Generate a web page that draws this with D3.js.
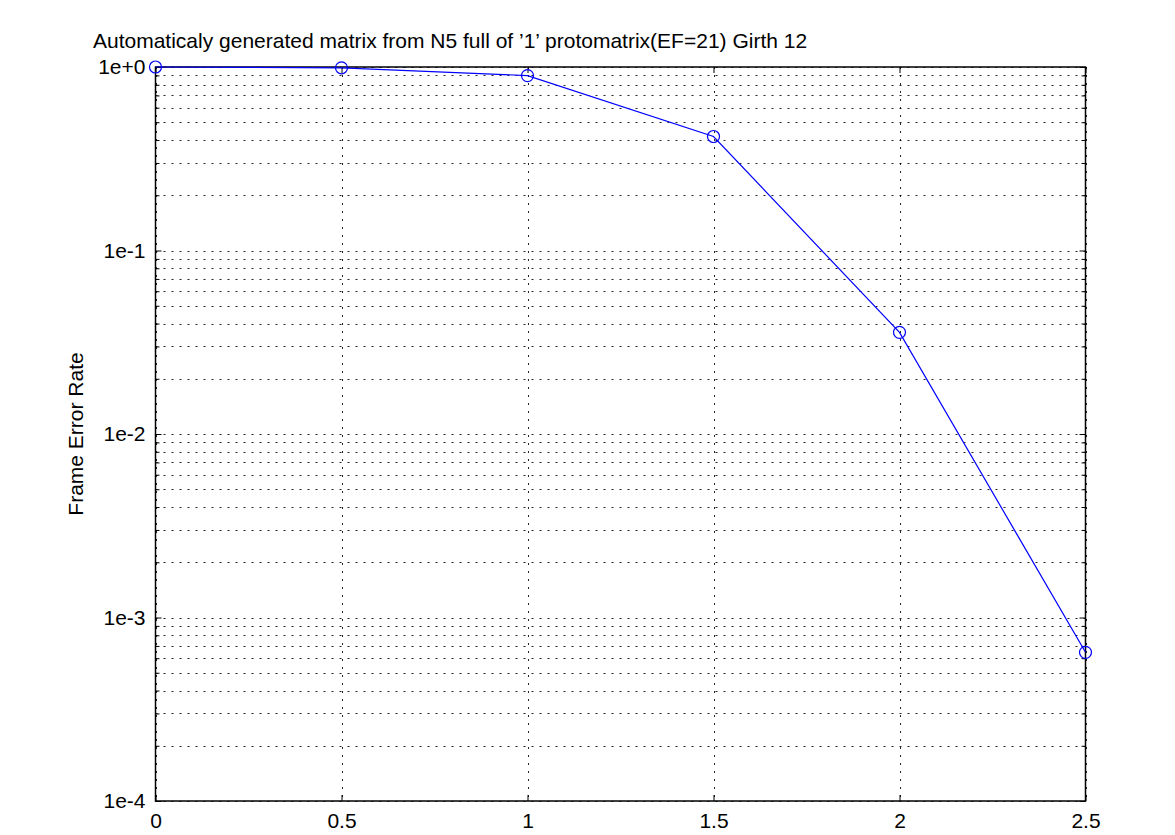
<!DOCTYPE html>
<html><head><meta charset="utf-8">
<script src="https://cdn.jsdelivr.net/npm/d3@7"></script>
<style>body{margin:0;background:#fff}svg{display:block}text{font-family:"Liberation Sans",Arial,sans-serif;fill:#000}</style>
</head><body><svg id="c" width="1175" height="835"></svg>
<script>
const snr = [0, 0.5, 1, 1.5, 2, 2.5];
const fer = [1.0, 0.99, 0.898, 0.418, 0.0358, 0.000646];
const xTicks = [0, 0.5, 1, 1.5, 2, 2.5];
const xTickLabels = ["0", "0.5", "1", "1.5", "2", "2.5"];
const yTicks = [1, 0.1, 0.01, 0.001, 0.0001];
const yTickLabels = ["1e+0", "1e-1", "1e-2", "1e-3", "1e-4"];
const title = "Automaticaly generated matrix from N5 full of \u20191\u2019 protomatrix(EF=21) Girth 12";
const yTitle = "Frame Error Rate";

const FS = "21px";
const L = 155.5, R = 1085.5, T = 67, B = 801;
const svg = d3.select("#c");
const x = d3.scaleLinear().domain([0, 2.5]).range([L, R]);
const y = d3.scaleLog().domain([1e-4, 1]).range([B, T]);

const minors = [];
for (let e = -4; e < 0; e++) for (let m = 2; m <= 9; m++) minors.push(m * Math.pow(10, e));

const g = svg.append("g");
const dash = "2,6";
g.selectAll(".hg").data(yTicks.concat(minors)).join("line")
  .attr("x1", L).attr("x2", R).attr("y1", d => Math.round(y(d)) + 0.5).attr("y2", d => Math.round(y(d)) + 0.5)
  .attr("stroke", "#000").attr("stroke-width", 1).attr("stroke-dasharray", dash).attr("opacity", 0.85);
g.selectAll(".vg").data(xTicks).join("line")
  .attr("x1", d => Math.round(x(d)) + 0.5).attr("x2", d => Math.round(x(d)) + 0.5).attr("y1", T).attr("y2", B)
  .attr("stroke", "#000").attr("stroke-width", 1).attr("stroke-dasharray", dash).attr("opacity", 0.85);

const axB = d3.axisBottom(x).tickValues(xTicks).tickFormat((d, i) => xTickLabels[i]).tickSize(-6).tickPadding(12);
const axT = d3.axisTop(x).tickValues(xTicks).tickFormat("").tickSize(-6);
const axL = d3.axisLeft(y).tickValues(yTicks).tickFormat((d, i) => yTickLabels[i]).tickSize(-6).tickPadding(10);
const axR = d3.axisRight(y).tickValues(yTicks).tickFormat("").tickSize(-6);
const axLm = d3.axisLeft(y).tickValues(minors).tickFormat("").tickSize(-4);
const axRm = d3.axisRight(y).tickValues(minors).tickFormat("").tickSize(-4);
function style(sel){ sel.selectAll("path").remove(); sel.selectAll("line").attr("stroke","#000");
  sel.selectAll("text").style("font-size",FS).style("font-family","Liberation Sans, Arial, sans-serif").attr("fill","#000"); }
svg.append("g").attr("transform", `translate(0,${B})`).call(axB).call(style);
svg.append("g").attr("transform", `translate(0,${T})`).call(axT).call(style);
svg.append("g").attr("transform", `translate(${L},0)`).call(axL).call(style);
svg.append("g").attr("transform", `translate(${R},0)`).call(axR).call(style);
svg.append("g").attr("transform", `translate(${L},0)`).call(axLm).call(style);
svg.append("g").attr("transform", `translate(${R},0)`).call(axRm).call(style);
svg.append("rect").attr("x", L).attr("y", T).attr("width", R - L).attr("height", B - T)
  .attr("fill", "none").attr("stroke", "#000").attr("stroke-width", 1.5);

const pts = snr.map((s, i) => [s, fer[i]]);
svg.append("path").datum(pts).attr("fill", "none").attr("stroke", "#0000ff").attr("stroke-width", 1.2)
  .attr("d", d3.line().x(d => x(d[0])).y(d => y(d[1])));
svg.selectAll(".pt").data(pts).join("circle").attr("cx", d => x(d[0])).attr("cy", d => y(d[1])).attr("r", 6)
  .attr("fill", "none").attr("stroke", "#0000ff").attr("stroke-width", 1.2);

svg.append("text").attr("x", 93).attr("y", 48).style("font-size", FS).text(title);
svg.append("text").attr("transform", `translate(83,${(T + B) / 2}) rotate(-90)`).attr("text-anchor", "middle")
  .style("font-size", FS).text(yTitle);
</script></body></html>
